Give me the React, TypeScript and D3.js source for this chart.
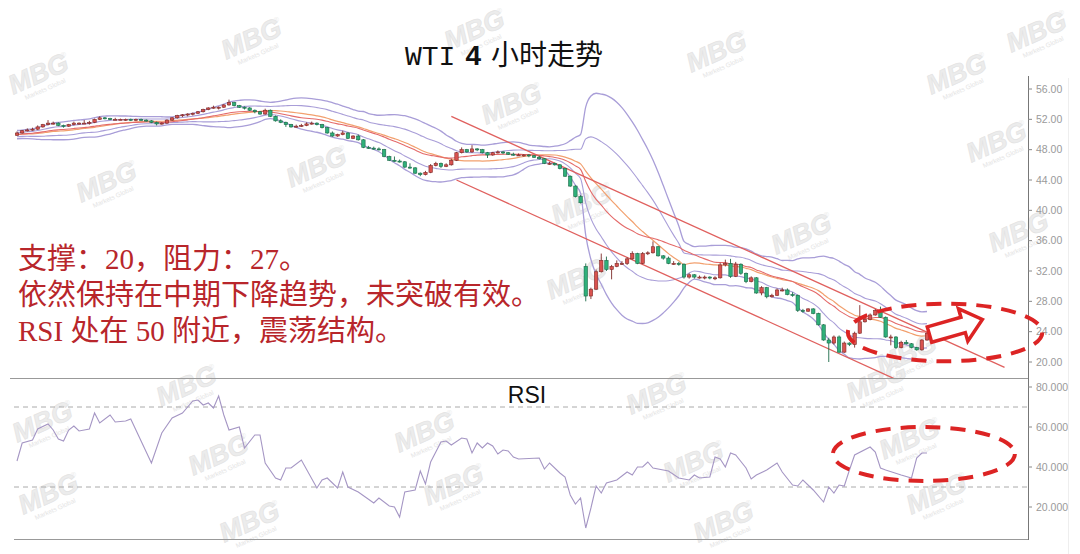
import React, { useMemo } from 'react';
import * as d3 from 'd3';

// 4h candles: open, high, low, close
type Candle = [number, number, number, number];

const candles: Candle[] = [
  [49.9, 50.4, 49.8, 50.2], [50.2, 50.6, 50.1, 50.5], [50.5, 50.8, 50.4, 50.6], [50.6, 50.9, 50.5, 50.7], [50.7, 51.2, 50.6, 51.0],
  [51.0, 51.4, 50.9, 51.3], [51.3, 51.9, 51.2, 51.5], [51.5, 51.7, 51.3, 51.5], [51.5, 51.6, 51.1, 51.2], [51.2, 51.3, 50.9, 51.1],
  [51.1, 51.4, 51.0, 51.3], [51.3, 51.7, 51.2, 51.5], [51.5, 51.6, 51.3, 51.5], [51.5, 51.9, 51.4, 51.5], [51.5, 51.8, 51.3, 51.6],
  [51.6, 52.1, 51.5, 52.0], [52.0, 52.4, 51.9, 52.2], [52.2, 52.3, 52.0, 52.1], [52.1, 52.2, 51.9, 52.0], [52.0, 52.2, 51.9, 52.0],
  [52.0, 52.1, 51.9, 52.0], [52.0, 52.1, 51.8, 52.0], [52.0, 52.1, 51.8, 51.9], [51.9, 52.1, 51.8, 52.0], [52.0, 52.1, 51.8, 51.9],
  [51.9, 52.0, 51.7, 51.8], [51.8, 51.9, 51.5, 51.6], [51.6, 51.7, 51.2, 51.4], [51.4, 51.6, 51.3, 51.5], [51.5, 52.0, 51.4, 51.9],
  [51.9, 52.3, 51.8, 52.2], [52.2, 52.6, 52.1, 52.5], [52.5, 52.7, 52.3, 52.6], [52.6, 52.8, 52.4, 52.7], [52.7, 52.9, 52.5, 52.8],
  [52.8, 53.1, 52.7, 53.0], [53.0, 53.4, 52.9, 53.3], [53.3, 53.6, 53.2, 53.5], [53.5, 53.8, 53.4, 53.6], [53.6, 53.7, 53.3, 53.6],
  [53.6, 54.0, 53.5, 53.9], [53.9, 54.6, 53.8, 54.2], [54.2, 54.3, 53.7, 53.8], [53.8, 53.9, 53.5, 53.6], [53.6, 53.7, 53.3, 53.5],
  [53.5, 53.6, 53.1, 53.2], [53.2, 53.3, 52.8, 53.0], [53.0, 53.1, 52.6, 52.7], [52.7, 53.4, 52.6, 53.2], [53.2, 53.3, 52.3, 52.4],
  [52.4, 52.5, 51.7, 51.8], [51.8, 52.0, 51.5, 51.6], [51.6, 51.7, 51.0, 51.3], [51.3, 51.4, 50.9, 51.0], [51.0, 51.3, 50.9, 51.1],
  [51.1, 51.4, 51.0, 51.2], [51.2, 51.6, 51.1, 51.4], [51.4, 51.7, 51.3, 51.5], [51.5, 51.6, 51.2, 51.3], [51.3, 51.4, 50.8, 50.9],
  [50.9, 51.0, 50.1, 50.2], [50.2, 50.4, 49.7, 49.8], [49.8, 50.1, 49.7, 50.0], [50.0, 50.5, 49.9, 50.2], [50.2, 50.3, 49.4, 49.5],
  [49.5, 49.9, 49.4, 49.8], [49.8, 50.0, 49.2, 49.3], [49.3, 49.4, 48.2, 48.3], [48.3, 48.5, 48.1, 48.2], [48.2, 48.4, 48.0, 48.1],
  [48.1, 48.3, 47.9, 48.0], [48.0, 48.1, 47.0, 47.1], [47.1, 47.2, 46.5, 46.6], [46.6, 47.1, 46.4, 46.5], [46.5, 46.7, 46.3, 46.4],
  [46.4, 46.5, 45.6, 45.7], [45.7, 46.2, 45.5, 45.6], [45.6, 45.7, 44.8, 44.9], [44.9, 45.0, 44.5, 44.7], [44.7, 45.2, 44.6, 45.0],
  [45.0, 46.1, 44.9, 45.9], [45.9, 46.4, 45.8, 46.2], [46.2, 46.3, 45.6, 45.8], [45.8, 46.2, 45.7, 46.0], [46.0, 46.8, 45.9, 46.6],
  [46.6, 47.7, 46.5, 47.6], [47.6, 48.3, 47.5, 48.0], [48.0, 48.1, 47.6, 47.7], [47.7, 48.6, 47.6, 48.1], [48.1, 48.2, 47.8, 48.0],
  [48.0, 48.1, 47.5, 47.6], [47.6, 47.7, 46.9, 47.3], [47.3, 47.7, 47.2, 47.6], [47.6, 47.9, 47.5, 47.7], [47.7, 47.8, 47.4, 47.6],
  [47.6, 47.7, 47.3, 47.4], [47.4, 47.6, 47.2, 47.3], [47.3, 47.5, 47.2, 47.3], [47.3, 47.4, 47.1, 47.3], [47.3, 47.4, 47.0, 47.2],
  [47.2, 47.3, 46.9, 47.0], [47.0, 47.2, 46.7, 46.8], [46.8, 46.9, 46.1, 46.2], [46.2, 46.4, 46.0, 46.2], [46.2, 46.3, 45.9, 46.0],
  [46.0, 46.1, 45.4, 45.5], [45.5, 45.6, 44.4, 44.5], [44.5, 44.6, 43.1, 43.2], [43.2, 43.3, 41.7, 41.8], [41.8, 42.0, 40.9, 41.0],
  [32.6, 33.0, 28.0, 28.7], [28.7, 29.8, 28.3, 29.6], [29.6, 32.2, 29.5, 31.9], [31.9, 34.3, 31.8, 33.4], [33.4, 33.9, 32.0, 32.2],
  [32.2, 32.8, 30.9, 32.6], [32.6, 33.4, 32.5, 33.0], [33.0, 33.3, 32.8, 33.0], [33.0, 33.8, 32.8, 33.6], [33.6, 34.6, 33.5, 34.3],
  [34.3, 34.4, 32.9, 33.0], [33.0, 34.5, 32.9, 34.3], [34.3, 34.6, 34.1, 34.4], [34.4, 35.9, 34.3, 35.2], [35.2, 35.3, 33.9, 34.0],
  [34.0, 34.1, 33.5, 33.7], [33.7, 33.9, 32.9, 33.0], [33.0, 33.3, 32.8, 33.0], [33.0, 33.2, 32.7, 32.9], [32.9, 33.0, 31.0, 31.2],
  [31.2, 31.7, 31.0, 31.5], [31.5, 31.6, 31.0, 31.2], [31.2, 31.4, 31.0, 31.2], [31.2, 31.4, 30.9, 31.2], [31.2, 31.3, 30.9, 31.1],
  [31.1, 31.3, 30.8, 31.1], [31.1, 33.1, 31.0, 32.8], [32.8, 33.5, 32.6, 33.0], [33.0, 33.6, 31.1, 31.3], [31.3, 33.2, 31.2, 32.9],
  [32.9, 33.0, 31.5, 31.7], [31.7, 31.8, 30.4, 30.6], [30.6, 31.3, 30.5, 31.1], [31.1, 31.2, 29.0, 29.1], [29.1, 30.0, 28.8, 29.8],
  [29.8, 29.9, 28.4, 28.6], [28.6, 29.0, 28.5, 28.8], [28.8, 29.7, 28.7, 29.5], [29.5, 29.8, 29.3, 29.5], [29.5, 29.7, 28.8, 28.9],
  [28.9, 29.2, 28.6, 28.8], [28.8, 28.9, 26.6, 26.8], [26.8, 27.0, 26.5, 26.7], [26.7, 27.1, 26.6, 27.0], [27.0, 27.1, 26.3, 26.4],
  [26.4, 26.5, 24.8, 24.9], [24.9, 25.0, 22.8, 22.9], [22.9, 23.2, 20.0, 22.5], [22.5, 23.5, 22.3, 23.3], [23.3, 23.5, 21.2, 21.3],
  [21.3, 22.7, 21.2, 22.5], [22.5, 22.6, 22.1, 22.3], [22.3, 24.0, 21.9, 23.8], [23.8, 27.5, 23.7, 25.3], [25.3, 25.8, 25.2, 25.6],
  [25.6, 26.4, 25.5, 26.2], [26.2, 27.0, 26.1, 26.8], [26.8, 27.3, 25.8, 25.9], [25.9, 26.0, 23.2, 23.3], [23.3, 23.6, 22.2, 23.3],
  [23.3, 23.4, 21.7, 21.9], [21.9, 22.8, 21.8, 22.6], [22.6, 22.9, 22.3, 22.4], [22.4, 22.5, 21.8, 21.9], [21.9, 22.0, 21.5, 21.6],
  [21.6, 23.0, 21.5, 22.9], [22.9, 23.9, 22.8, 23.8],
];

// closes before the first visible candle (only feed the 20-period bands)
const priorCloses = [49.6, 49.9, 50.3, 50.0, 49.7, 49.5, 49.8, 50.2, 50.5, 50.1, 49.8, 49.6, 49.9, 50.3, 50.4, 50.0, 49.8, 50.1, 50.0];

// RSI vertices: [candle index, value]
const rsiPoints: [number, number][] = [
  [0, 43], [1, 52], [3, 53.5], [4, 59], [6, 61.5], [7, 58.5], [8, 54], [9, 53], [10, 58.5], [11, 60.5], [12, 58], [14, 59],
  [15, 67], [16, 62], [18, 66], [19, 62.5], [21, 63], [22, 64], [26, 42], [28, 57], [30, 64.5], [32, 67], [34, 73], [35, 73.5],
  [36, 71], [37, 72], [38, 69.5], [39, 75.5], [40, 66], [41, 58.5], [43, 60], [44, 49.5], [46, 56], [47, 56], [48, 42], [50, 34.5],
  [51, 33.5], [52, 39.5], [53, 39.5], [55, 43.5], [58, 29.5], [59, 33.5], [60, 34.5], [62, 29.5], [63, 37.5], [64, 30], [66, 27.5],
  [69, 22], [70, 24.5], [72, 20.5], [73, 20], [74, 15], [75, 27.5], [77, 28.5], [78, 38], [79, 31.5], [80, 42.5], [82, 52.5],
  [83, 53], [84, 51], [86, 54.5], [87, 54], [88, 47], [89, 52], [90, 49.5], [91, 52], [92, 50.5], [93, 46.5], [94, 48.5], [95, 48],
  [96, 45], [97, 44], [101, 44.5], [102, 39], [103, 42], [105, 37], [106, 35], [107, 26], [108, 21.5], [109, 24.5], [110, 9.5],
  [111, 19.5], [112, 30.5], [113, 27], [114, 32], [116, 33.5], [118, 37.5], [119, 36], [120, 40], [121, 40], [122, 42.5], [123, 39.5],
  [126, 38], [128, 34.5], [130, 33.5], [131, 36], [132, 34.5], [134, 35], [135, 45], [136, 44], [137, 40], [138, 47], [139, 46],
  [141, 39.5], [142, 34], [143, 36], [145, 38.5], [147, 42], [148, 37.5], [150, 31], [151, 30.5], [152, 33.5], [154, 28.5],
  [156, 22.5], [157, 30], [158, 27], [159, 31], [160, 30.5], [161, 38.5], [162, 46], [165, 50], [166, 47.5], [167, 39.5],
  [168, 38.5], [171, 36], [173, 34.5], [174, 44.5], [175, 47], [176, 47],
];

const priceTicks = [56, 52, 48, 44, 40, 36, 32, 28, 24, 20];
const rsiTicks = [80, 60, 40, 20];
const rsiLevels = [70, 30];

// hand-drawn trend channel: [candle index, price] end points
const channelLines: [number, number][][] = [
  [[84, 52.4], [191, 19.3]],
  [[85, 44.0], [191, 11.2]],
];

const title = ['WTI', '4', '小时走势'];
const notes = ['支撑：20，阻力：27。', '依然保持在中期下降趋势，未突破有效。', 'RSI 处在 50 附近，震荡结构。'];

// annotation anchors in data units
const priceEllipse = { idx: 179.5, price: 23.9, idxR: 18.8, priceR: 3.8 };
const rsiEllipse = { idx: 175.4, value: 46.5, idxR: 17.6, valueR: 13.5 };
const arrowAnchor = { idx: 181.5, price: 24.6 };

// background watermark stamps (page pixels)
const stamps: [number, number][] = [
  [42, 82], [255, 47], [478, 38], [720, 60], [960, 82], [1040, 40],
  [515, 112], [320, 175], [110, 190], [585, 212], [580, 287], [805, 242], [1000, 150], [1022, 240], [910, 362],
  [190, 394], [222, 463], [253, 530], [428, 440], [457, 493], [660, 402], [697, 470], [727, 530],
  [880, 390], [913, 447], [940, 502], [46, 430], [52, 502],
];

const W = 1080;
const H = 554;
const UP = '#d9524f';
const UP_EDGE = '#7d2b29';
const DOWN = '#2fb07a';
const DOWN_EDGE = '#1c6a48';
const BAND = '#a99ed8';
const NOTE_RED = '#b8262b';
const MARK_RED = '#dc2424';

const App: React.FC = () => {
  const x = d3.scaleLinear().domain([0, candles.length - 1]).range([17, 927]);
  const y = d3.scaleLinear().domain([20, 56]).range([362, 89]);
  const yr = d3.scaleLinear().domain([20, 80]).range([507, 387]);

  const ind = useMemo(() => {
    const all = [...priorCloses, ...candles.map((c) => c[3])];
    const P = priorCloses.length;
    const k = 2 / 21;
    let ema = d3.mean(priorCloses) as number;
    const emaAll = all.map((v) => (ema = ema + k * (v - ema)));
    return candles.map((_, i) => {
      const w = all.slice(i + P - 19, i + P + 1);
      const m = d3.mean(w) as number;
      const sd = Math.sqrt(d3.mean(w, (v) => (v - m) ** 2) as number);
      return { i, m, sd, ema: emaAll[i + P] };
    });
  }, []);

  type Ind = (typeof ind)[number];
  const bandLine = (f: (d: Ind) => number) =>
    d3.line<Ind>().x((d) => x(d.i)).y((d) => y(f(d))).curve(d3.curveMonotoneX)(ind) || '';

  const rsiPath = d3.line<[number, number]>().x((d) => x(d[0])).y((d) => yr(d[1]))(rsiPoints) || '';

  const pe = {
    cx: x(priceEllipse.idx),
    cy: y(priceEllipse.price),
    rx: x(priceEllipse.idx + priceEllipse.idxR) - x(priceEllipse.idx),
    ry: y(priceEllipse.price - priceEllipse.priceR) - y(priceEllipse.price),
  };
  const re = {
    cx: x(rsiEllipse.idx),
    cy: yr(rsiEllipse.value),
    rx: x(rsiEllipse.idx + rsiEllipse.idxR) - x(rsiEllipse.idx),
    ry: yr(rsiEllipse.value - rsiEllipse.valueR) - yr(rsiEllipse.value),
  };

  const arrowPts = [[-27, -8], [8, -8], [8, -17], [28, 0], [8, 17], [8, 8], [-27, 8]]
    .map((p) => p.join(','))
    .join(' ');

  const bw = 3.4;

  return (
    <div style={{ position: 'absolute', left: 0, top: 0, background: '#fff' }}>
      <svg width={W} height={H} viewBox={`0 0 ${W} ${H}`} style={{ display: 'block' }}>
        <defs>
          <clipPath id="pricePanel">
            <rect x={10} y={76} width={1018} height={302} />
          </clipPath>
          <clipPath id="axisArea">
            <rect x={0} y={0} width={1068} height={H} />
          </clipPath>
        </defs>
        <rect width={W} height={H} fill="#fff" />

        {/* watermark */}
        {stamps.map(([sx, sy], i) => (
          <g key={i} transform={`translate(${sx},${sy}) rotate(-24)`} fill="#ececec" fontFamily="'Liberation Sans', Arial">
            <text textAnchor="middle" fontSize={27} fontWeight="bold" fontStyle="italic" stroke="#e2e2e2" strokeWidth={0.6}>
              MBG
            </text>
            <text x={28} y={-14} fontSize={7}>®</text>
            <text textAnchor="middle" y={10} fontSize={6.5} fill="#e4e4e4">
              Markets Global
            </text>
          </g>
        ))}

        {/* title */}
        <text x={405} y={65} fontSize={28} fill="#111">
          <tspan fontFamily="'Liberation Mono', monospace">{title[0]}</tspan>
          <tspan fontFamily="'Liberation Sans', Arial" fontWeight="bold" dx={10}>{title[1]}</tspan>
          <tspan fontFamily="'Noto Sans CJK SC'" dx={10}>{title[2]}</tspan>
        </text>

        {/* frame */}
        <line x1={1028.5} x2={1028.5} y1={76} y2={540} stroke="#777" />
        <line x1={1068.5} x2={1068.5} y1={78} y2={554} stroke="#eee" />
        <line x1={10} x2={1028} y1={378.5} y2={378.5} stroke="#999" />
        <line x1={14} x2={1028} y1={539.5} y2={539.5} stroke="#999" />

        <g clipPath="url(#axisArea)">
          {/* price axis */}
          {priceTicks.map((t) => (
            <g key={t} transform={`translate(1028,${y(t)})`}>
              <line x1={0} x2={4} stroke="#888" />
              <text x={8} dy="0.35em" fontSize={10.5} fill="#9a9a9a" fontFamily="'Liberation Sans', Arial">
                {d3.format('.2f')(t)}
              </text>
            </g>
          ))}
          {/* RSI axis */}
          {rsiTicks.map((t) => (
            <g key={t} transform={`translate(1028,${yr(t)})`}>
              <line x1={0} x2={4} stroke="#888" />
              <text x={8} dy="0.35em" fontSize={10.5} fill="#9a9a9a" fontFamily="'Liberation Sans', Arial">
                {d3.format('.4f')(t)}
              </text>
            </g>
          ))}
        </g>

        <g clipPath="url(#pricePanel)">
          {/* bands and averages */}
          <path d={bandLine((d) => d.m + 2 * d.sd)} fill="none" stroke={BAND} strokeWidth={1.3} />
          <path d={bandLine((d) => d.m - 2 * d.sd)} fill="none" stroke={BAND} strokeWidth={1.3} />
          <path d={bandLine((d) => d.m + d.sd)} fill="none" stroke={BAND} strokeWidth={1.1} />
          <path d={bandLine((d) => d.m - d.sd)} fill="none" stroke={BAND} strokeWidth={1.1} />
          <path d={bandLine((d) => d.m)} fill="none" stroke="#f2a06e" strokeWidth={1.2} />
          <path d={bandLine((d) => d.ema)} fill="none" stroke="#e46a6a" strokeWidth={1.1} />

          {/* trend channel */}
          {channelLines.map((l, i) => (
            <line key={i} x1={x(l[0][0])} y1={y(l[0][1])} x2={x(l[1][0])} y2={y(l[1][1])} stroke="#e0605e" strokeWidth={1.3} />
          ))}

          {/* candles */}
          {candles.map(([o, h, l, c], i) => {
            const up = c >= o;
            const top = y(Math.max(o, c));
            const bh = Math.max(1, y(Math.min(o, c)) - top);
            return (
              <g key={i}>
                <line x1={x(i)} x2={x(i)} y1={y(h)} y2={y(l)} stroke={up ? UP_EDGE : DOWN_EDGE} strokeWidth={0.9} />
                <rect
                  x={x(i) - bw / 2}
                  y={top}
                  width={bw}
                  height={bh}
                  fill={up ? UP : DOWN}
                  stroke={up ? UP_EDGE : DOWN_EDGE}
                  strokeWidth={0.6}
                />
              </g>
            );
          })}
        </g>

        {/* notes */}
        {notes.map((n, i) => (
          <text
            key={i}
            x={18}
            y={269 + i * 36}
            fontSize={29}
            fill={NOTE_RED}
            fontFamily="'Liberation Serif', 'Noto Sans CJK SC', serif"
          >
            {n}
          </text>
        ))}

        {/* price annotations */}
        <ellipse {...pe} fill="none" stroke={MARK_RED} strokeWidth={4} strokeDasharray="15 10" />
        <polygon
          points={arrowPts}
          transform={`translate(${x(arrowAnchor.idx)},${y(arrowAnchor.price)}) rotate(-16)`}
          fill="#fff"
          stroke={MARK_RED}
          strokeWidth={3.5}
          strokeLinejoin="miter"
        />

        {/* RSI panel */}
        <text x={527} y={403} textAnchor="middle" fontSize={23} fill="#111" fontFamily="'Liberation Sans', Arial">
          RSI
        </text>
        {rsiLevels.map((v) => (
          <line key={v} x1={14} x2={1028} y1={yr(v)} y2={yr(v)} stroke="#aaa" strokeDasharray="5 4" />
        ))}
        <path d={rsiPath} fill="none" stroke="#a596c4" strokeWidth={1.1} />
        <ellipse {...re} fill="none" stroke={MARK_RED} strokeWidth={4} strokeDasharray="15 10" />
      </svg>
    </div>
  );
};

export default App;
